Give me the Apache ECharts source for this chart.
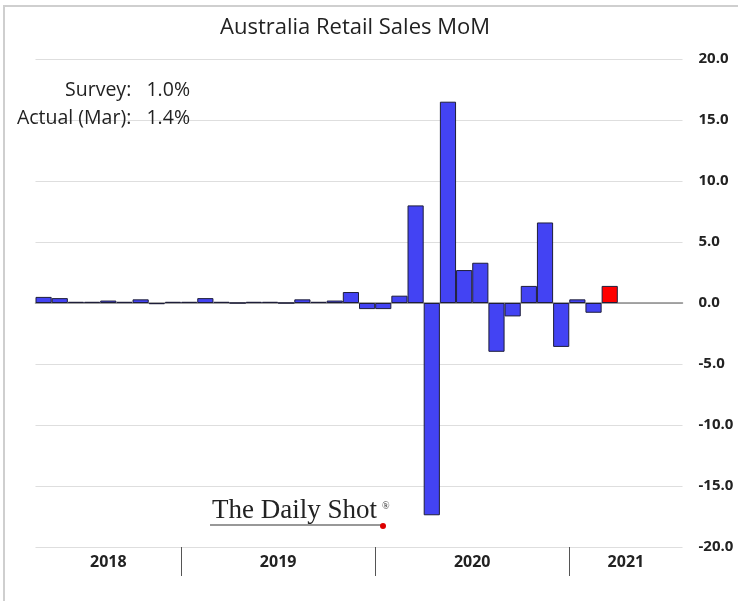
<!DOCTYPE html>
<html>
<head>
<meta charset="utf-8">
<script src="https://cdn.jsdelivr.net/npm/echarts@6/dist/echarts.min.js"></script>
<style>html,body{margin:0;padding:0;background:#fff}#chart{width:738px;height:601px}</style>
</head>
<body>
<div id="chart"></div>
<script>
// Months shown on the axis (Apr 2018 – Jul 2021)
const months = [
  '2018-04','2018-05','2018-06','2018-07','2018-08','2018-09','2018-10','2018-11','2018-12',
  '2019-01','2019-02','2019-03','2019-04','2019-05','2019-06','2019-07','2019-08','2019-09','2019-10','2019-11','2019-12',
  '2020-01','2020-02','2020-03','2020-04','2020-05','2020-06','2020-07','2020-08','2020-09','2020-10','2020-11','2020-12',
  '2021-01','2021-02','2021-03','2021-04','2021-05','2021-06','2021-07'
];
// Retail sales MoM, % (Apr 2018 – Mar 2021)
const salesMoM = [
  0.5, 0.4, 0.1, 0.1, 0.2, 0.1, 0.3, -0.1, 0.1,
  0.1, 0.4, 0.1, 0.0, 0.1, 0.1, 0.0, 0.3, 0.1, 0.2, 0.9, -0.5,
  -0.5, 0.6, 8.0, -17.4, 16.5, 2.7, 3.3, -4.0, -1.1, 1.4, 6.6, -3.6,
  0.3, -0.8, 1.4
];
const yTicks = [-20, -15, -10, -5, 0, 5, 10, 15, 20];
const titleText = 'Australia Retail Sales MoM';
const noteText = 'Survey:   1.0%\nActual (Mar):   1.4%';
const brandText = 'The Daily Shot';

// derived year spans
const years = [];
months.forEach((m, i) => {
  const y = m.slice(0, 4);
  let last = years[years.length - 1];
  if (!last || last.year !== y) { last = { year: y, start: i, end: i }; years.push(last); }
  last.end = i;
});
const yearCenters = years.map(y => (y.start + y.end + 1) / 2);
const yearBounds = years.slice(1).map(y => y.start);
const centerMap = {};
years.forEach((y, i) => { centerMap[yearCenters[i]] = y.year; });

const lastIdx = salesMoM.length - 1;
const barData = salesMoM.map((v, i) => i === lastIdx
  ? { value: v, itemStyle: { color: '#FF0000' } }
  : v);

const chart = echarts.init(document.getElementById('chart'), null, { renderer: 'canvas' });
chart.setOption({
  animation: false,
  backgroundColor: '#fff',
  title: [
    { text: titleText, left: 350, top: 12, textAlign: 'center',
      textStyle: { fontFamily: 'Open Sans', fontSize: 22, fontWeight: 'normal', color: '#222' } },
    { text: noteText, left: 185, top: 71, textAlign: 'right',
      textStyle: { fontFamily: 'Open Sans', fontSize: 19.5, fontWeight: 'normal', color: '#222', lineHeight: 28 } },
    { text: brandText, left: 207, top: 492,
      textStyle: { fontFamily: 'Liberation Serif', fontSize: 27, fontWeight: 'normal', color: '#222' } }
  ],
  graphic: [
    { type: 'rect', shape: { x: 4, y: 6, width: 760, height: 620 }, style: { fill: 'none', stroke: '#cfcfcf', lineWidth: 2 }, silent: true },
    { type: 'line', shape: { x1: 210, y1: 525, x2: 383, y2: 525 }, style: { stroke: '#333', lineWidth: 1.2 }, silent: true },
    { type: 'circle', shape: { cx: 383, cy: 526, r: 3 }, style: { fill: '#d00' }, silent: true },
    { type: 'text', x: 382, y: 501, style: { text: '®', fontSize: 10, fill: '#333', fontFamily: 'Liberation Serif' }, silent: true }
  ],
  grid: { left: 35.5, right: 55.5, top: 59, bottom: 54, containLabel: false },
  xAxis: [
    { type: 'category', data: months, boundaryGap: true,
      axisLine: { show: true, onZero: true, lineStyle: { color: '#8a8a8a', width: 1.5 } },
      axisTick: { show: false }, axisLabel: { show: false }, splitLine: { show: false } },
    { type: 'value', min: 0, max: months.length, position: 'bottom',
      axisLine: { show: false },
      axisTick: { show: true, customValues: yearBounds, length: 29, lineStyle: { color: '#555', width: 1 } },
      axisLabel: { show: true, customValues: yearCenters, margin: 7,
        formatter: v => centerMap[v] || '',
        fontFamily: 'Open Sans', fontSize: 16, fontWeight: 'bold', color: '#222' },
      splitLine: { show: false } }
  ],
  yAxis: {
    type: 'value', position: 'right', min: yTicks[0], max: yTicks[yTicks.length - 1], interval: 5,
    axisLine: { show: false }, axisTick: { show: false },
    splitLine: { show: true, lineStyle: { color: '#dedede', width: 1.2 } },
    axisLabel: { margin: 16, formatter: v => v.toFixed(1),
      fontFamily: 'Open Sans', fontSize: 15, fontWeight: 'bold', color: '#222' }
  },
  series: [{
    type: 'bar', xAxisIndex: 0, data: barData, barCategoryGap: '0%',
    itemStyle: { color: '#4343F3', borderColor: '#1e1e3a', borderWidth: 1 }
  }]
});
</script>
</body>
</html>
